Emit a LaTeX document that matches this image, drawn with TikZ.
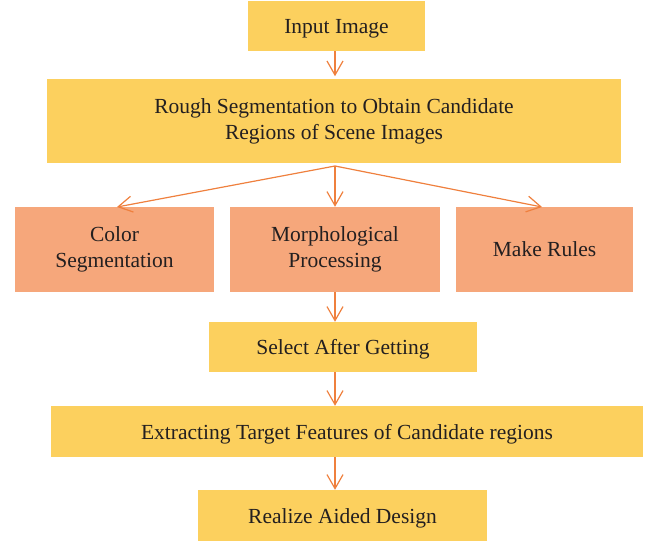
\documentclass[tikz,border=0pt]{standalone}
\usepackage{fontspec}
\setmainfont{Liberation Serif}
\usetikzlibrary{arrows.meta}
\definecolor{boxyellow}{RGB}{252,208,94}
\definecolor{boxsalmon}{RGB}{246,167,123}
\definecolor{arrowc}{RGB}{239,128,62}
\definecolor{txt}{RGB}{35,31,32}
\newcommand{\dn}[1]{\raisebox{-2.5pt}[\height][\depth]{#1}}
\tikzset{
  box/.style={fill=boxyellow, draw=none, text=txt, align=center, inner sep=0pt,
    font=\fontsize{21.5}{26}\selectfont},
  sbox/.style={box, fill=boxsalmon},
  arr/.style={draw=arrowc, line width=1.2pt, -{Straight Barb[length=14pt,width=16pt,line width=1.2pt]}},
}
\begin{document}
\begin{tikzpicture}[x=1pt,y=-1pt]
\useasboundingbox (0,0) rectangle (650,542);
\node[box, minimum width=177pt, minimum height=50pt] (input) at (336.5,26) {\dn{Input Image}};
\node[box, minimum width=574pt, minimum height=84pt] (rough) at (334,121) {Rough Segmentation to Obtain Candidate\\Regions of Scene Images};
\node[sbox, minimum width=199pt, minimum height=85pt] (color) at (114.5,249.5) {Color\\Segmentation};
\node[sbox, minimum width=210pt, minimum height=85pt] (morph) at (335,249.5) {Morphological\\Processing};
\node[sbox, minimum width=177pt, minimum height=85pt] (rules) at (544.5,249.5) {Make Rules};
\node[box, minimum width=268pt, minimum height=50pt] (select) at (343,347) {\dn{Select After Getting}};
\node[box, minimum width=592pt, minimum height=51pt] (extract) at (347,431.5) {\dn{Extracting Target Features of Candidate regions}};
\node[box, minimum width=289pt, minimum height=51pt] (realize) at (342.5,515.5) {\dn{Realize Aided Design}};
\coordinate (fan) at (335,166);
\coordinate (ltip) at (117,207);
\coordinate (rtip) at (542,207);
\draw[arr] (input.south -| fan) -- ++(0,25);
\draw[arr] (fan) -- (ltip);
\draw[arr] (fan) -- (rtip);
\draw[arr] (fan) -- (morph.north -| fan);
\draw[arr] (morph.south -| fan) -- (select.north -| fan);
\draw[arr] (select.south -| fan) -- (extract.north -| fan);
\draw[arr] (extract.south -| fan) -- (realize.north -| fan);
\end{tikzpicture}
\end{document}
